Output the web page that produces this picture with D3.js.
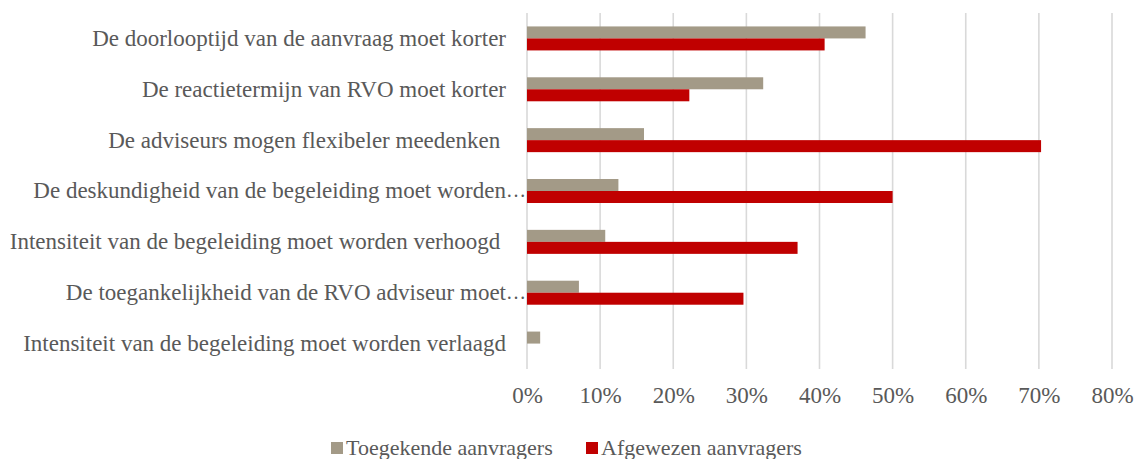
<!DOCTYPE html>
<html>
<head>
<meta charset="utf-8">
<script src="https://cdn.jsdelivr.net/npm/d3@7"></script>
<style>
  html, body { margin: 0; padding: 0; background: #fff; }
  svg text { font-family: "Liberation Serif", "DejaVu Serif", serif; fill: #595959; }
</style>
</head>
<body>
<svg id="chart" width="1135" height="459"></svg>
<script>
// Survey statements (top to bottom)
const categories = [
  "De doorlooptijd van de aanvraag moet korter",
  "De reactietermijn van RVO moet korter",
  "De adviseurs mogen flexibeler meedenken ",
  "De deskundigheid van de begeleiding moet worden…",
  "Intensiteit van de begeleiding moet worden verhoogd ",
  "De toegankelijkheid van de RVO adviseur moet…",
  "Intensiteit van de begeleiding moet worden verlaagd"
];
const seriesNames = ["Toegekende aanvragers", "Afgewezen aanvragers"];
const toegekend = [0.463, 0.323, 0.160, 0.125, 0.107, 0.071, 0.018];
const afgewezen = [0.407, 0.222, 0.703, 0.500, 0.370, 0.296, 0.000];
const tickValues = [0, 0.1, 0.2, 0.3, 0.4, 0.5, 0.6, 0.7, 0.8];
const colors = ["#A39A87", "#C00000"];

const svg = d3.select("#chart");
const plot = { left: 527, right: 1112, top: 13, bottom: 369 };

const x = d3.scaleLinear().domain([0, 0.8]).range([plot.left, plot.right]);
const y = d3.scaleBand().domain(categories).range([plot.top, plot.bottom])
  .paddingInner(0.528).paddingOuter(0.264);
const ySub = d3.scaleBand().domain(seriesNames).range([0, y.bandwidth()]);

// Vertical gridlines
svg.append("g")
  .selectAll("line").data(tickValues).join("line")
  .attr("x1", d => x(d)).attr("x2", d => x(d))
  .attr("y1", plot.top).attr("y2", plot.bottom)
  .attr("stroke", "#d9d9d9").attr("stroke-width", 1.6);

// Bars
const rows = categories.map((c, i) => ({ c, vals: [toegekend[i], afgewezen[i]] }));
const groups = svg.append("g").selectAll("g").data(rows).join("g")
  .attr("transform", d => `translate(0,${y(d.c)})`);
groups.selectAll("rect")
  .data(d => d.vals.map((v, j) => ({ v, s: seriesNames[j], j })))
  .join("rect")
  .filter(d => d.v > 0)
  .attr("x", x(0))
  .attr("y", d => ySub(d.s))
  .attr("width", d => x(d.v) - x(0))
  .attr("height", ySub.bandwidth())
  .attr("fill", d => colors[d.j]);

// X axis tick labels
const xAxis = d3.axisBottom(x).tickValues(tickValues).tickFormat(d3.format(".0%")).tickSize(0);
svg.append("g")
  .attr("transform", `translate(0,${plot.bottom})`)
  .call(xAxis)
  .call(g => g.select(".domain").remove())
  .call(g => g.selectAll("text")
    .attr("dy", 0).attr("y", 34)
    .style("font-size", "23px")
    .style("font-family", "'Liberation Serif', serif")
    .attr("fill", "#595959"));

// Category labels, right aligned; truncated ones keep their ellipsis past the edge
const labelX = 506;
const labels = svg.append("g").selectAll("g").data(categories).join("g")
  .attr("transform", d => `translate(${labelX},${y(d) + y.bandwidth() / 2})`);
labels.append("text")
  .attr("text-anchor", "end")
  .attr("dy", "0.32em")
  .style("font-size", "23px")
  .style("white-space", "pre")
  .text(d => d.endsWith("…") ? d.slice(0, -1) : d);
labels.filter(d => d.endsWith("…")).append("text")
  .attr("text-anchor", "start")
  .attr("dy", "0.32em")
  .style("font-size", "20px")
  .text("…");

// Legend
const legendItems = [
  { name: seriesNames[0], color: colors[0], x: 331 },
  { name: seriesNames[1], color: colors[1], x: 586 }
];
const legend = svg.append("g").selectAll("g").data(legendItems).join("g")
  .attr("transform", d => `translate(${d.x},442)`);
legend.append("rect").attr("width", 12).attr("height", 12).attr("fill", d => d.color);
legend.append("text").attr("x", 15).attr("y", 13)
  .style("font-size", "22px").text(d => d.name);
</script>
</body>
</html>
